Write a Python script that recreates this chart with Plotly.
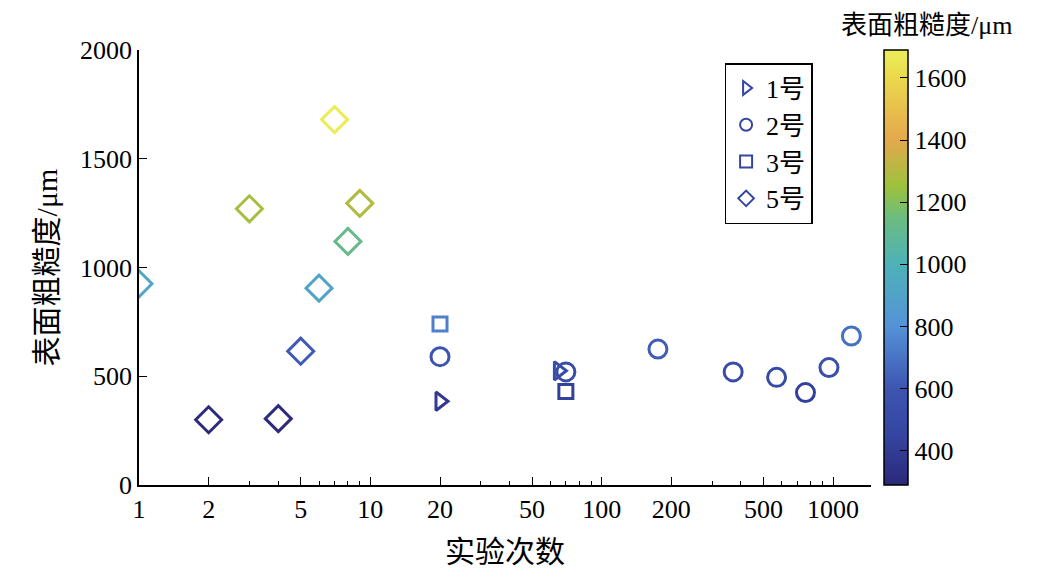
import plotly.graph_objects as go

d5_x = [1, 2, 3, 4, 5, 6, 7, 8, 9]
d5_y = [925, 300, 1270, 305, 615, 905, 1680, 1120, 1295]
d1_x = [20, 65]
d1_y = [385, 525]
d2_x = [20, 70, 175, 370, 570, 760, 960, 1200]
d2_y = [590, 520, 625, 520, 495, 425, 540, 685]
d3_x = [20, 70]
d3_y = [740, 430]
cb_ticks = [400, 600, 800, 1000, 1200, 1400, 1600]

CMIN, CMAX = 290, 1690
stops = [(290, "#2b2878"), (450, "#3545a0"), (600, "#3d55b0"), (800, "#5592d8"),
         (1000, "#4db2b8"), (1150, "#6cbc80"), (1250, "#9cc23c"), (1400, "#e4a84c"),
         (1600, "#ead84c"), (1690, "#eaf05a")]
cscale = [[(v - CMIN) / (CMAX - CMIN), c] for v, c in stops]
FONT = "Liberation Serif, Times New Roman, Noto Sans CJK SC"

fig = go.Figure()
series = [("1号", "triangle-right-open", d1_x, d1_y, 16),
          ("2号", "circle-open", d2_x, d2_y, 18),
          ("3号", "square-open", d3_x, d3_y, 14),
          ("5号", "diamond-open", d5_x, d5_y, 20)]
first = True
for name, sym, xs, ys, sz in series:
    mk = dict(symbol=sym, size=sz, color=ys, colorscale=cscale, cmin=CMIN, cmax=CMAX,
              line=dict(width=3))
    if first:
        mk.update(showscale=True, colorbar=dict(
            x=(883 - 138) / 732, xanchor="left", y=0, yanchor="bottom", lenmode="fraction", len=1,
            thickness=24, outlinewidth=1.5, outlinecolor="black", tickvals=cb_ticks,
            ticks="inside", ticklen=8, tickcolor="black", xpad=0, ypad=0,
            tickfont=dict(size=26, family=FONT)))
        first = False
    fig.add_trace(go.Scatter(x=xs, y=ys, mode="markers", marker=mk, showlegend=False))
    fig.add_trace(go.Scatter(x=[None], y=[None], mode="markers", name=name,
                             marker=dict(symbol=sym, size=sz, color="#3545a0", line=dict(width=3))))

fig.add_annotation(text="表面粗糙度/μm", xref="paper", yref="paper",
                   x=(925 - 138) / 732, y=1.0, yshift=8, xanchor="center", yanchor="bottom",
                   showarrow=False, font=dict(size=26, family=FONT))

fig.update_layout(
    width=1038, height=580, plot_bgcolor="white", paper_bgcolor="white",
    margin=dict(l=131, r=175, t=42, b=103, autoexpand=False),
    font=dict(family=FONT, size=26, color="black"),
    legend=dict(x=0.80, y=0.97, xanchor="left", yanchor="top", bordercolor="black",
                borderwidth=1.5, font=dict(size=26, family=FONT), bgcolor="white",
                itemsizing="constant", tracegroupgap=0),
)
fig.update_xaxes(type="log", range=[0, 3.164], showline=True, linecolor="black", linewidth=1.5,
                 ticks="inside", ticklen=8, tickcolor="black", showgrid=False, zeroline=False,
                 tickvals=[1, 2, 5, 10, 20, 50, 100, 200, 500, 1000],
                 ticktext=["1", "2", "5", "10", "20", "50", "100", "200", "500", "1000"],
                 minor=dict(ticks="inside", ticklen=4, tickcolor="black",
                            tickvals=[3, 4, 6, 7, 8, 9, 30, 40, 60, 70, 80, 90, 300, 400, 600, 700, 800, 900]),
                 title=dict(text="实验次数", font=dict(size=30), standoff=18))
fig.update_yaxes(range=[0, 2000], showline=True, linecolor="black", linewidth=1.5,
                 ticks="inside", ticklen=8, tickcolor="black", showgrid=False, zeroline=False,
                 tickvals=[0, 500, 1000, 1500, 2000],
                 title=dict(text="表面粗糙度/μm", font=dict(size=30), standoff=14))
fig.write_html("out.html")
